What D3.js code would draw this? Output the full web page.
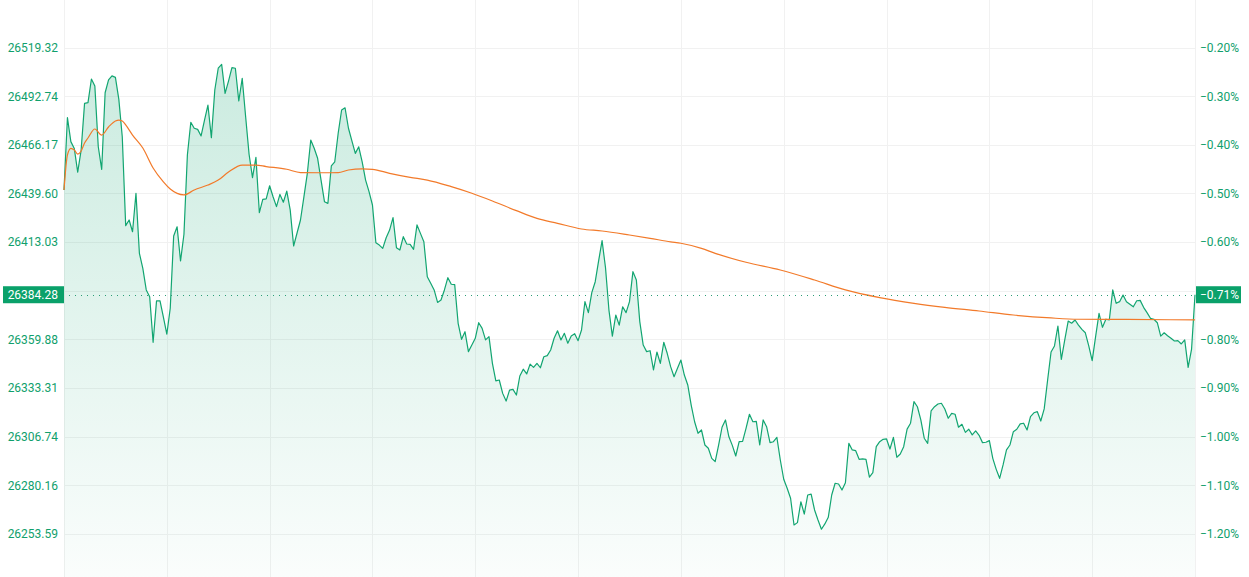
<!DOCTYPE html>
<html>
<head>
<meta charset="utf-8">
<script src="https://cdn.jsdelivr.net/npm/d3@7"></script>
<style>
  body { margin: 0; background: #fff; }
  svg { display: block; font-family: Roboto, "Noto Sans", sans-serif; }
</style>
</head>
<body>
<svg id="chart" width="1249" height="577"></svg>
<script>
// -------------------------------------------------------------------------
// Data

const prevClose = 26572.46;
const lastPrice = 26384.28;

const priceTicks = [26519.32, 26492.74, 26466.17, 26439.60, 26413.03, 26386.46,
  26359.88, 26333.31, 26306.74, 26280.16, 26253.59];

// gridline every 30 minutes
const minuteGrid = [0, 30, 60, 90, 120, 150, 180, 210, 240, 270, 300, 330];

// one value per minute
const prices = [
  26441.5, 26481.0, 26467.9, 26464.2, 26451.2, 26463.3, 26488.8, 26489.2, 26502.1, 26498.3,
  26465.1, 26452.8, 26494.6, 26501.6, 26503.8, 26503.0, 26491.0, 26470.6, 26422.0, 26425.1,
  26418.7, 26439.7, 26406.9, 26398.7, 26386.9, 26383.2, 26358.3, 26380.9, 26381.0, 26372.1,
  26362.7, 26376.9, 26416.4, 26421.4, 26402.7, 26417.3, 26460.6, 26478.5, 26475.2, 26474.6,
  26471.0, 26479.7, 26487.8, 26470.1, 26496.1, 26508.0, 26510.1, 26494.3, 26501.0, 26508.3,
  26508.0, 26490.1, 26502.5, 26481.5, 26461.0, 26448.2, 26459.3, 26429.1, 26436.4, 26436.6,
  26443.8, 26437.8, 26432.4, 26439.1, 26434.8, 26440.9, 26430.6, 26410.9, 26418.0, 26425.1,
  26437.7, 26450.6, 26468.8, 26464.3, 26458.8, 26446.9, 26435.1, 26434.2, 26454.6, 26456.9,
  26472.5, 26485.2, 26486.4, 26475.2, 26468.3, 26461.5, 26465.1, 26456.9, 26446.9, 26440.6,
  26433.3, 26412.7, 26411.4, 26409.6, 26415.4, 26419.6, 26426.4, 26410.0, 26408.7, 26416.0,
  26412.0, 26411.8, 26409.1, 26422.4, 26417.8, 26413.2, 26394.1, 26390.5, 26386.9, 26380.1,
  26381.4, 26386.9, 26393.6, 26390.0, 26389.8, 26368.7, 26359.9, 26364.1, 26353.2, 26356.8,
  26360.5, 26369.0, 26365.9, 26359.6, 26361.4, 26346.8, 26337.2, 26337.7, 26330.4, 26326.2,
  26332.2, 26332.6, 26329.5, 26339.9, 26343.6, 26341.0, 26346.4, 26344.6, 26346.8, 26344.4,
  26350.4, 26351.0, 26354.1, 26360.5, 26364.6, 26359.6, 26363.2, 26357.8, 26361.7, 26363.0,
  26359.2, 26365.0, 26380.5, 26374.5, 26385.4, 26391.4, 26402.9, 26413.8, 26399.0, 26375.9,
  26361.7, 26373.2, 26367.7, 26377.7, 26374.5, 26380.5, 26396.9, 26392.3, 26369.6, 26356.8,
  26353.2, 26353.7, 26343.2, 26353.0, 26346.8, 26358.3, 26352.3, 26345.0, 26339.5, 26344.1,
  26348.6, 26340.4, 26335.0, 26324.0, 26314.9, 26308.6, 26310.4, 26302.2, 26300.4, 26294.9,
  26293.1, 26302.2, 26311.9, 26315.9, 26306.7, 26302.0, 26296.2, 26304.0, 26304.2, 26311.3,
  26319.0, 26314.9, 26315.1, 26302.2, 26315.9, 26312.2, 26303.5, 26304.0, 26306.4, 26294.0,
  26283.5, 26278.6, 26273.1, 26258.5, 26259.8, 26271.2, 26264.5, 26274.9, 26275.4, 26266.7,
  26261.2, 26256.2, 26259.1, 26262.7, 26274.9, 26281.3, 26280.9, 26277.6, 26281.6, 26303.1,
  26299.5, 26299.1, 26294.4, 26294.6, 26294.4, 26284.6, 26287.1, 26301.3, 26304.0, 26305.3,
  26305.5, 26300.0, 26306.4, 26295.5, 26297.3, 26301.3, 26310.9, 26314.1, 26325.9, 26323.1,
  26315.9, 26305.9, 26303.1, 26320.8, 26323.1, 26324.6, 26325.0, 26321.9, 26316.8, 26319.5,
  26319.0, 26311.9, 26313.5, 26309.1, 26310.8, 26307.7, 26309.9, 26307.5, 26303.5, 26303.7,
  26304.6, 26294.9, 26288.9, 26284.0, 26291.3, 26299.5, 26302.2, 26309.5, 26310.8, 26313.7,
  26314.1, 26310.4, 26317.7, 26319.8, 26320.4, 26315.3, 26321.9, 26337.7, 26353.0, 26356.3,
  26367.2, 26349.0, 26359.6, 26369.9, 26368.7, 26370.5, 26367.7, 26365.4, 26363.5, 26356.3,
  26348.3, 26361.4, 26374.1, 26366.5, 26370.9, 26370.5, 26386.9, 26379.6, 26380.5, 26384.1,
  26380.5, 26379.1, 26377.7, 26381.0, 26381.2, 26377.4, 26374.5, 26371.4, 26370.9, 26369.0,
  26361.7, 26363.5, 26361.9, 26360.5, 26359.0, 26359.2, 26357.4, 26359.6, 26344.6, 26354.6,
  26384.28
];

// average price line, read at these minutes
const avgMinutes = [0, 1, 2, 3, 4, 5, 6, 7, 9, 11, 13, 15, 16, 17, 18, 20, 23, 26, 29, 31,
  35, 38, 42, 45, 48, 52, 56, 59, 65, 69, 75, 80, 83, 87, 90, 95, 101, 106, 113, 119,
  125, 132, 138, 144, 151, 157, 165, 171, 177, 180, 186, 190, 199, 209, 219, 228, 238, 248, 257, 267,
  277, 288, 296, 310, 330];
const avgPrices = [26441.5, 26460.6, 26464.2, 26463.3, 26461.1, 26462.8, 26467.2, 26469.9, 26474.8, 26471.5,
  26475.9, 26479.2, 26479.7, 26479.2, 26477.0, 26471.5, 26464.4, 26453.5, 26445.9, 26442.0,
  26438.8, 26441.5, 26444.2, 26446.9, 26451.3, 26455.1, 26455.1, 26454.3, 26452.8, 26451.0,
  26450.9, 26451.0, 26452.4, 26453.0, 26452.8, 26450.6, 26448.4, 26446.9, 26443.3, 26439.7,
  26435.5, 26430.2, 26426.0, 26423.3, 26420.2, 26419.1, 26416.9, 26415.1, 26413.2, 26412.4,
  26409.6, 26406.9, 26402.0, 26397.8, 26392.3, 26386.9, 26382.7, 26379.6, 26377.4, 26375.4,
  26373.2, 26371.6, 26370.9, 26370.8, 26370.5];

// -------------------------------------------------------------------------
// Chart

const width = 1249;
const height = 577;
const plotLeft = 64;
const plotRight = 1195;
const green = '#12a571';
const textGreen = '#10a06c';
const boxGreen = '#0aa16a';
const orange = '#f27a2a';
const gridColor = '#f1f1f1';

const svg = d3.select('#chart');

const x = d3.scaleLinear().domain([0, 330]).range([plotLeft, plotRight]);
const y = d3.scaleLinear().domain([26253.59, 26519.32]).range([534, 47.5]);

const pct = (v) => d3.format('.2f')((v / prevClose - 1) * 100) + '%';

// gradient for area fill
const grad = svg.append('defs').append('linearGradient')
  .attr('id', 'fillGrad')
  .attr('gradientUnits', 'userSpaceOnUse')
  .attr('x1', 0).attr('x2', 0)
  .attr('y1', y(26510)).attr('y2', height);
grad.append('stop').attr('offset', 0).attr('stop-color', green).attr('stop-opacity', 0.22);
grad.append('stop').attr('offset', 1).attr('stop-color', green).attr('stop-opacity', 0.02);

// grid
svg.append('g').selectAll('line.h')
  .data(priceTicks)
  .enter().append('line')
  .attr('x1', plotLeft).attr('x2', plotRight)
  .attr('y1', (d) => Math.round(y(d)) + 0.5)
  .attr('y2', (d) => Math.round(y(d)) + 0.5)
  .attr('stroke', gridColor);

svg.append('g').selectAll('line.v')
  .data(minuteGrid)
  .enter().append('line')
  .attr('x1', (d) => Math.round(x(d)) + 0.5)
  .attr('x2', (d) => Math.round(x(d)) + 0.5)
  .attr('y1', 0).attr('y2', height)
  .attr('stroke', gridColor);

// price area + line
const area = d3.area()
  .x((d, i) => x(i))
  .y0(height)
  .y1((d) => y(d));
svg.append('path')
  .datum(prices)
  .attr('d', area)
  .attr('fill', 'url(#fillGrad)');

const line = d3.line()
  .x((d, i) => x(i))
  .y((d) => y(d));
svg.append('path')
  .datum(prices)
  .attr('d', line)
  .attr('fill', 'none')
  .attr('stroke', green)
  .attr('stroke-width', 1.2)
  .attr('stroke-linejoin', 'round');

// average line
const avgLine = d3.line()
  .x((d) => x(d[0]))
  .y((d) => y(d[1]))
  .curve(d3.curveMonotoneX);
svg.append('path')
  .datum(d3.zip(avgMinutes, avgPrices))
  .attr('d', avgLine)
  .attr('fill', 'none')
  .attr('stroke', orange)
  .attr('stroke-width', 1.2);

// last price dotted line
const tagY = y(lastPrice);
svg.append('line')
  .attr('x1', plotLeft + 5).attr('x2', plotRight)
  .attr('y1', Math.round(tagY) + 0.5).attr('y2', Math.round(tagY) + 0.5)
  .attr('stroke', '#2a9d76')
  .attr('stroke-width', 1)
  .attr('stroke-dasharray', '1 5')
  .attr('shape-rendering', 'crispEdges');

// axes
const hidden = (d) => Math.abs(y(d) - tagY) < 12;

const leftAxis = svg.append('g')
  .attr('transform', `translate(${plotLeft},0)`)
  .call(d3.axisLeft(y).tickValues(priceTicks).tickSize(0).tickPadding(6)
    .tickFormat(d3.format('.2f')));
const rightAxis = svg.append('g')
  .attr('transform', `translate(${plotRight},0)`)
  .call(d3.axisRight(y).tickValues(priceTicks).tickSize(0).tickPadding(5)
    .tickFormat(pct));

[leftAxis, rightAxis].forEach((g) => {
  g.select('.domain').remove();
  g.selectAll('.tick')
    .filter(hidden)
    .remove();
  g.selectAll('text')
    .attr('fill', textGreen)
    .style('font-size', '12px')
    .style('font-family', 'Roboto, sans-serif');
});

// last price tags
svg.append('rect')
  .attr('x', 3).attr('y', tagY - 8.5)
  .attr('width', plotLeft - 3).attr('height', 17)
  .attr('fill', boxGreen);
svg.append('text')
  .attr('x', plotLeft - 6).attr('y', tagY)
  .attr('dy', '0.35em')
  .attr('text-anchor', 'end')
  .attr('fill', '#fff')
  .style('font-size', '12px')
  .text(d3.format('.2f')(lastPrice));

svg.append('rect')
  .attr('x', plotRight + 1).attr('y', tagY - 8.5)
  .attr('width', 45).attr('height', 17)
  .attr('fill', boxGreen);
svg.append('text')
  .attr('x', plotRight + 5).attr('y', tagY)
  .attr('dy', '0.35em')
  .attr('fill', '#fff')
  .style('font-size', '12px')
  .text(pct(lastPrice));
</script>
</body>
</html>
